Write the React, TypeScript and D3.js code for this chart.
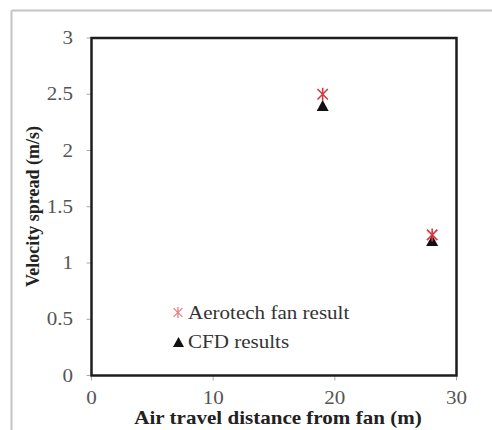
import React from "react";
import * as d3 from "d3";

const xTicks = [0, 10, 20, 30];
const yTicks = [0, 0.5, 1, 1.5, 2, 2.5, 3];
const yTickLabels = ["0", "0.5", "1", "1.5", "2", "2.5", "3"];
const aeroX = [19, 28];
const aeroY = [2.5, 1.25];
const cfdX = [19, 28];
const cfdY = [2.4, 1.2];
const seriesNames = ["Aerotech fan result", "CFD results"];
const xTitle = "Air travel distance from fan (m)";
const yTitle = "Velocity spread (m/s)";

const W = 492, H = 430;
const L = 91.5, R = 456.5, T = 38, B = 375.5;
const FONT = '"Liberation Serif", "DejaVu Serif", serif';
const SX = 1.17; // horizontal stretch of the reference glyphs

function Star({ cx, cy, r, color, sw }: { cx: number; cy: number; r: number; color: string; sw: number }) {
  const d = r * 0.8;
  return (
    <g stroke={color} strokeWidth={sw} strokeLinecap="butt">
      <line x1={cx} y1={cy - r} x2={cx} y2={cy + r} />
      <line x1={cx - d} y1={cy - d} x2={cx + d} y2={cy + d} />
      <line x1={cx - d} y1={cy + d} x2={cx + d} y2={cy - d} />
    </g>
  );
}

function Tri({ cx, cy, s }: { cx: number; cy: number; s: number }) {
  const h = s * 0.9;
  return <path d={`M${cx},${cy - h / 2}L${cx + s / 2},${cy + h / 2}L${cx - s / 2},${cy + h / 2}Z`} fill="#111" />;
}

function HText({ x, y, anchor, size, weight, fill, children }: any) {
  return (
    <text
      transform={`translate(${x},${y}) scale(${SX},1)`}
      textAnchor={anchor || "start"}
      fontSize={size}
      fontWeight={weight || "normal"}
      fill={fill}
      style={{ fontFamily: FONT }}
    >
      {children}
    </text>
  );
}

export default function App() {
  const x = d3.scaleLinear().domain([0, 30]).range([L, R]);
  const y = d3.scaleLinear().domain([0, 3]).range([B, T]);
  return (
    <svg width={W} height={H} style={{ position: "absolute", left: 0, top: 0, fontFamily: FONT }}>
      <rect x={0} y={0} width={W} height={H} fill="#fff" />
      <line x1={11.5} y1={10.5} x2={W} y2={10.5} stroke="#c4c4c4" strokeWidth={2} />
      <line x1={11.5} y1={10.5} x2={11.5} y2={H} stroke="#c4c4c4" strokeWidth={2} />
      {yTicks.map((t, i) => (
        <g key={"y" + i}>
          <line x1={L - 5} x2={L} y1={y(t)} y2={y(t)} stroke="#aaa" strokeWidth={1} />
          <HText x={73} y={y(t) + 6} anchor="end" size={18} fill="#555">{yTickLabels[i]}</HText>
        </g>
      ))}
      {xTicks.map((t, i) => (
        <g key={"x" + i}>
          <line x1={x(t)} x2={x(t)} y1={B} y2={B + 5} stroke="#aaa" strokeWidth={1} />
          <HText x={x(t)} y={404} anchor="middle" size={18} fill="#555">{t}</HText>
        </g>
      ))}
      <rect x={L} y={T} width={R - L} height={B - T} fill="none" stroke="#1e1e1e" strokeWidth={2.5} />
      {cfdX.map((v, i) => (
        <Tri key={"c" + i} cx={x(v)} cy={y(cfdY[i])} s={12} />
      ))}
      {aeroX.map((v, i) => (
        <Star key={"a" + i} cx={x(v)} cy={y(aeroY[i])} r={6.5} color="#d8383c" sw={1.6} />
      ))}
      <Star cx={178} cy={312.5} r={5.5} color="#ec7a80" sw={1.3} />
      <HText x={188} y={319} size={18} fill="#333">{seriesNames[0]}</HText>
      <Tri cx={178.5} cy={342} s={11} />
      <HText x={188} y={348} size={18} fill="#333">{seriesNames[1]}</HText>
      <HText x={278} y={424} anchor="middle" size={18} weight="bold" fill="#222">{xTitle}</HText>
      <text transform={`translate(39,206.5) rotate(-90)`} textAnchor="middle" fontSize={18} fontWeight="bold" fill="#222" style={{ fontFamily: FONT }}>{yTitle}</text>
    </svg>
  );
}
